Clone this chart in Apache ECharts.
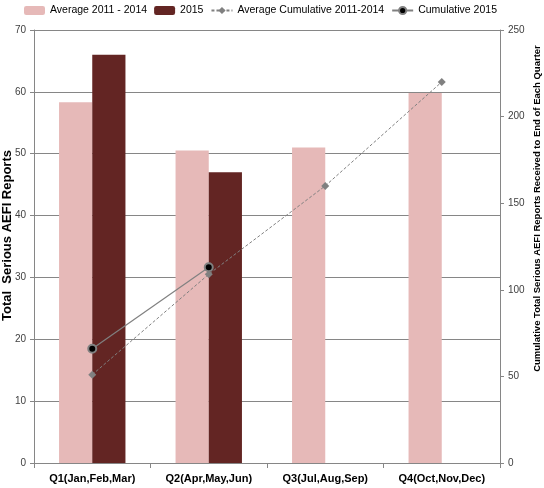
<!DOCTYPE html>
<html>
<head>
<meta charset="utf-8">
<script src="https://cdn.jsdelivr.net/npm/echarts@6/dist/echarts.min.js"></script>
<style>
  html, body { margin: 0; padding: 0; background: #fff; }
  #chart { width: 544px; height: 488px; }
</style>
</head>
<body>
<div id="chart"></div>
<script>
// quarters on the x axis
var quarters = ['Q1(Jan,Feb,Mar)', 'Q2(Apr,May,Jun)', 'Q3(Jul,Aug,Sep)', 'Q4(Oct,Nov,Dec)'];
// quarterly serious AEFI reports
var avg2011to2014 = [58.3, 50.5, 51.0, 59.8];
var reports2015 = [66.0, 47.0, null, null];
// cumulative, right axis
var avgCumulative = [51, 109, 160, 220];
var cumulative2015 = [66, 113, null, null];

var font = 'Liberation Sans';

var myChart = echarts.init(document.getElementById('chart'));
myChart.setOption({
    animation: false,
    textStyle: { fontFamily: font },
    grid: {
        left: 34,
        right: 44,
        top: 30,
        bottom: 25,
        outerBoundsMode: 'none'
    },
    legend: {
        top: 5,
        left: 24,
        padding: 0,
        width: 530,
        itemGap: 7,
        itemWidth: 21,
        itemHeight: 9,
        textStyle: { fontSize: 10.5, color: '#000', fontFamily: font },
        data: ['Average 2011 - 2014', '2015', 'Average Cumulative 2011-2014', 'Cumulative 2015']
    },
    xAxis: {
        type: 'category',
        data: quarters,
        axisLine: { lineStyle: { color: '#868686' } },
        axisTick: { show: true, length: 5, lineStyle: { color: '#868686' } },
        axisLabel: { color: '#000', fontSize: 11, fontWeight: 'bold', margin: 10, interval: 0 }
    },
    yAxis: [
        {
            type: 'value',
            min: 0,
            max: 70,
            interval: 10,
            name: 'Total  Serious AEFI Reports',
            nameLocation: 'middle',
            nameGap: 20,
            nameMoveOverlap: false,
            nameTextStyle: { fontSize: 13, color: '#000', fontWeight: 'bold', padding: [0, 0, 0, 22] },
            axisLine: { show: true, lineStyle: { color: '#868686' } },
            axisTick: { show: true, length: 4, lineStyle: { color: '#868686' } },
            axisLabel: { color: '#404040', fontSize: 10, margin: 8 },
            splitLine: { show: true, lineStyle: { color: '#868686' } }
        },
        {
            type: 'value',
            min: 0,
            max: 250,
            interval: 50,
            position: 'right',
            name: 'Cumulative Total Serious AEFI Reports Received to End of Each Quarter',
            nameLocation: 'middle',
            nameGap: 32,
            nameMoveOverlap: false,
            nameTextStyle: { fontSize: 9.5, color: '#000', fontWeight: 'bold', padding: [0, 0, 0, 76] },
            axisLine: { show: true, lineStyle: { color: '#868686' } },
            axisTick: { show: true, length: 4, lineStyle: { color: '#868686' } },
            axisLabel: { color: '#404040', fontSize: 10, margin: 8 },
            splitLine: { show: false }
        }
    ],
    series: [
        {
            name: 'Average 2011 - 2014',
            type: 'bar',
            data: avg2011to2014,
            barGap: 0,
            barCategoryGap: '43%',
            itemStyle: { color: '#e6b9b8' }
        },
        {
            name: '2015',
            type: 'bar',
            data: reports2015,
            itemStyle: { color: '#632523' }
        },
        {
            name: 'Average Cumulative 2011-2014',
            type: 'line',
            yAxisIndex: 1,
            data: avgCumulative,
            symbol: 'diamond',
            symbolSize: 8,
            lineStyle: { color: '#808080', width: 1, type: [3, 2] },
            itemStyle: { color: '#808080' }
        },
        {
            name: 'Cumulative 2015',
            type: 'line',
            yAxisIndex: 1,
            data: cumulative2015,
            symbol: 'circle',
            symbolSize: 8,
            lineStyle: { color: '#808080', width: 1.2 },
            itemStyle: { color: '#000', borderColor: '#808080', borderWidth: 2 }
        }
    ]
});
</script>
</body>
</html>
